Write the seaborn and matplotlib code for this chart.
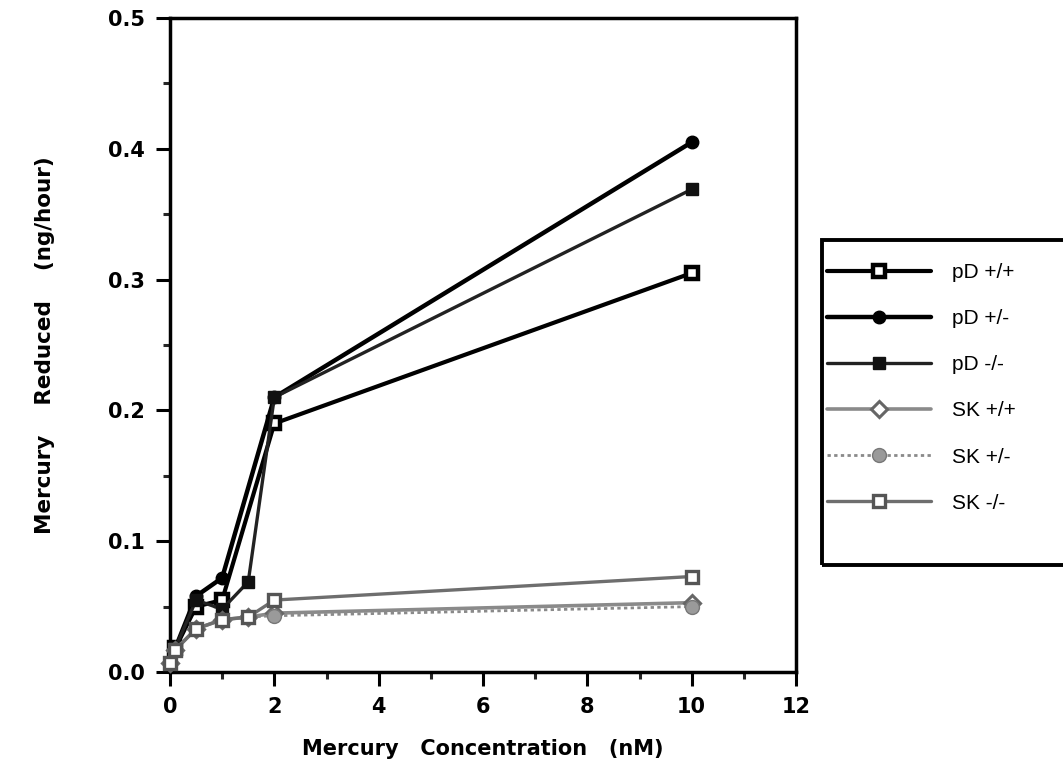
import matplotlib
matplotlib.use("Agg")
import matplotlib.pyplot as plt
from matplotlib.ticker import MultipleLocator
from matplotlib.patches import Rectangle
import seaborn as sns
import pandas as pd

# ---- data ----
labels = ["pD +/+", "pD +/-", "pD -/-", "SK +/+", "SK +/-", "SK -/-"]

pd_pp_x = [0.1, 0.5, 1.0, 2.0, 10.0]
pd_pp_y = [0.018, 0.050, 0.055, 0.190, 0.305]

pd_pm_x = [0.1, 0.5, 1.0, 2.0, 10.0]
pd_pm_y = [0.018, 0.058, 0.072, 0.210, 0.405]

pd_mm_x = [0.1, 0.5, 1.0, 1.5, 2.0, 10.0]
pd_mm_y = [0.018, 0.055, 0.048, 0.069, 0.210, 0.369]

sk_pp_x = [0.0, 0.1, 0.5, 1.0, 1.5, 2.0, 10.0]
sk_pp_y = [0.007, 0.017, 0.033, 0.040, 0.042, 0.045, 0.053]

sk_pm_x = [0.0, 0.1, 0.5, 1.0, 1.5, 2.0, 10.0]
sk_pm_y = [0.007, 0.017, 0.033, 0.040, 0.042, 0.043, 0.050]

sk_mm_x = [0.0, 0.1, 0.5, 1.0, 1.5, 2.0, 10.0]
sk_mm_y = [0.007, 0.017, 0.033, 0.040, 0.042, 0.055, 0.073]

xs = [pd_pp_x, pd_pm_x, pd_mm_x, sk_pp_x, sk_pm_x, sk_mm_x]
ys = [pd_pp_y, pd_pm_y, pd_mm_y, sk_pp_y, sk_pm_y, sk_mm_y]

x_ticks = [0, 2, 4, 6, 8, 10, 12]
y_ticks = [0.0, 0.1, 0.2, 0.3, 0.4, 0.5]

# ---- styles ----
styles = [
    dict(color="black", lw=3.0, ls="-", marker="s", ms=9, mfc="white", mec="black", mew=3.2),
    dict(color="black", lw=3.2, ls="-", marker="o", ms=9, mfc="black", mec="black", mew=1),
    dict(color="#222222", lw=2.4, ls="-", marker="s", ms=9, mfc="#111111", mec="#111111", mew=1),
    dict(color="#8a8a8a", lw=2.6, ls="-", marker="D", ms=8, mfc="white", mec="#666666", mew=2.2),
    dict(color="#8a8a8a", lw=2.0, ls=(0, (1.2, 1.2)), marker="o", ms=10, mfc="#9a9a9a", mec="#777777", mew=1),
    dict(color="#6e6e6e", lw=2.4, ls="-", marker="s", ms=8, mfc="white", mec="#555555", mew=2.4),
]

sns.set_style("ticks")
plt.rcParams["font.family"] = ["DejaVu Sans"]
plt.rcParams["text.color"] = "black"
plt.rcParams["axes.labelcolor"] = "black"

fig = plt.figure(figsize=(10.63, 7.82), dpi=100)
ax = fig.add_axes([170 / 1063, 110 / 782, 626 / 1063, 654 / 782])

for lab, x, y, st in zip(labels, xs, ys, styles):
    df = pd.DataFrame({"x": x, "y": y})
    sns.lineplot(data=df, x="x", y="y", ax=ax, label=lab,
                 color=st["color"], linewidth=st["lw"], linestyle=st["ls"],
                 marker=st["marker"], markersize=st["ms"],
                 markerfacecolor=st["mfc"], markeredgecolor=st["mec"],
                 markeredgewidth=st["mew"], clip_on=False, zorder=3)

ax.set_xlim(0, 12)
ax.set_ylim(0, 0.5)
ax.set_xticks(x_ticks)
ax.set_yticks(y_ticks)
ax.set_xticklabels([str(t) for t in x_ticks])
ax.set_yticklabels([f"{t:.1f}" for t in y_ticks])
ax.xaxis.set_minor_locator(MultipleLocator(1))
ax.yaxis.set_minor_locator(MultipleLocator(0.05))

for s in ax.spines.values():
    s.set_linewidth(2.5)
    s.set_color("black")
ax.tick_params(axis="both", which="major", direction="out", length=10, width=2.2,
               labelsize=15, pad=8, colors="black")
ax.tick_params(axis="both", which="minor", direction="out", length=5, width=2.2)
for t in ax.get_xticklabels() + ax.get_yticklabels():
    t.set_fontweight("bold")

ax.set_xlabel("Mercury   Concentration   (nM)", fontsize=15, fontweight="bold",
              labelpad=16, color="black")
ax.set_ylabel("Mercury    Reduced    (ng/hour)", fontsize=15.5, fontweight="bold",
              labelpad=38, color="black")

leg = ax.legend(loc="upper left",
                bbox_to_anchor=(822 / 1063, 1 - 258 / 782),
                bbox_transform=fig.transFigure,
                prop={"family": "Liberation Sans", "size": 15},
                frameon=False,
                handlelength=5.0, handletextpad=1.0, labelspacing=1.3,
                borderpad=0.25, borderaxespad=0)
for t in leg.get_texts():
    t.set_color("black")

# legend frame (open at the right edge, as in the reference)
fig.patches.append(Rectangle((822 / 1063, 1 - 565 / 782), 0.3, 325 / 782,
                             transform=fig.transFigure, fill=False,
                             edgecolor="black", linewidth=2.8, clip_on=False))

fig.savefig("out.png", dpi=100)
